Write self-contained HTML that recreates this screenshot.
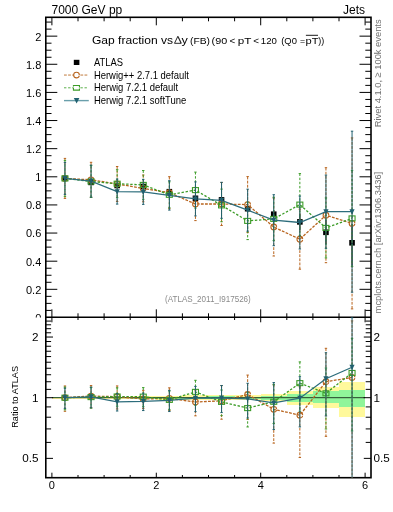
<!DOCTYPE html><html><head><meta charset="utf-8"><style>html,body{margin:0;padding:0;background:#fff;}svg{display:block;will-change:transform;}text{font-family:"Liberation Sans",sans-serif;-webkit-font-smoothing:antialiased;}</style></head><body>
<svg width="393" height="512" viewBox="0 0 393 512">
<g shape-rendering="crispEdges">
<rect x="51.90" y="396.70" width="26.10" height="2.00" fill="#fff99c"/>
<rect x="51.90" y="397.20" width="26.10" height="1.00" fill="#90f59a"/>
<rect x="78.00" y="396.70" width="26.10" height="2.00" fill="#fff99c"/>
<rect x="78.00" y="397.20" width="26.10" height="1.00" fill="#90f59a"/>
<rect x="104.10" y="396.50" width="26.10" height="2.40" fill="#fff99c"/>
<rect x="104.10" y="397.10" width="26.10" height="1.20" fill="#90f59a"/>
<rect x="130.20" y="396.20" width="26.10" height="3.00" fill="#fff99c"/>
<rect x="130.20" y="396.90" width="26.10" height="1.60" fill="#90f59a"/>
<rect x="156.30" y="395.70" width="26.10" height="4.00" fill="#fff99c"/>
<rect x="156.30" y="396.70" width="26.10" height="2.00" fill="#90f59a"/>
<rect x="182.40" y="395.40" width="26.10" height="4.60" fill="#fff99c"/>
<rect x="182.40" y="396.50" width="26.10" height="2.40" fill="#90f59a"/>
<rect x="208.50" y="395.20" width="26.10" height="5.00" fill="#fff99c"/>
<rect x="208.50" y="396.40" width="26.10" height="2.60" fill="#90f59a"/>
<rect x="234.60" y="395.30" width="26.10" height="4.80" fill="#fff99c"/>
<rect x="234.60" y="396.50" width="26.10" height="2.40" fill="#90f59a"/>
<rect x="260.70" y="394.10" width="26.10" height="7.20" fill="#fff99c"/>
<rect x="260.70" y="395.50" width="26.10" height="4.40" fill="#90f59a"/>
<rect x="286.80" y="390.80" width="26.10" height="13.80" fill="#fff99c"/>
<rect x="286.80" y="393.50" width="26.10" height="8.40" fill="#90f59a"/>
<rect x="312.90" y="387.20" width="26.10" height="20.70" fill="#fff99c"/>
<rect x="312.90" y="391.20" width="26.10" height="11.70" fill="#90f59a"/>
<rect x="339.00" y="382.10" width="26.10" height="34.60" fill="#fff99c"/>
<rect x="339.00" y="390.10" width="26.10" height="16.60" fill="#90f59a"/>
</g>
<line x1="51.90" y1="397.7" x2="365.10" y2="397.7" stroke="#000" stroke-opacity="0.75" stroke-width="1"/>
<g stroke="#000" fill="none">
<rect x="45.8" y="17.3" width="325.2" height="460.4" stroke-width="1.6"/>
<line x1="45.8" y1="317.3" x2="371.0" y2="317.3" stroke-width="1.4"/>
<path d="M45.8,317.45h11.5M371.0,317.45h-11.5M45.8,310.42h5.7M371.0,310.42h-5.7M45.8,303.38h5.7M371.0,303.38h-5.7M45.8,296.35h5.7M371.0,296.35h-5.7M45.8,289.32h11.5M371.0,289.32h-11.5M45.8,282.29h5.7M371.0,282.29h-5.7M45.8,275.25h5.7M371.0,275.25h-5.7M45.8,268.22h5.7M371.0,268.22h-5.7M45.8,261.19h11.5M371.0,261.19h-11.5M45.8,254.16h5.7M371.0,254.16h-5.7M45.8,247.12h5.7M371.0,247.12h-5.7M45.8,240.09h5.7M371.0,240.09h-5.7M45.8,233.06h11.5M371.0,233.06h-11.5M45.8,226.03h5.7M371.0,226.03h-5.7M45.8,218.99h5.7M371.0,218.99h-5.7M45.8,211.96h5.7M371.0,211.96h-5.7M45.8,204.93h11.5M371.0,204.93h-11.5M45.8,197.90h5.7M371.0,197.90h-5.7M45.8,190.86h5.7M371.0,190.86h-5.7M45.8,183.83h5.7M371.0,183.83h-5.7M45.8,176.80h11.5M371.0,176.80h-11.5M45.8,169.77h5.7M371.0,169.77h-5.7M45.8,162.73h5.7M371.0,162.73h-5.7M45.8,155.70h5.7M371.0,155.70h-5.7M45.8,148.67h11.5M371.0,148.67h-11.5M45.8,141.64h5.7M371.0,141.64h-5.7M45.8,134.60h5.7M371.0,134.60h-5.7M45.8,127.57h5.7M371.0,127.57h-5.7M45.8,120.54h11.5M371.0,120.54h-11.5M45.8,113.51h5.7M371.0,113.51h-5.7M45.8,106.47h5.7M371.0,106.47h-5.7M45.8,99.44h5.7M371.0,99.44h-5.7M45.8,92.41h11.5M371.0,92.41h-11.5M45.8,85.38h5.7M371.0,85.38h-5.7M45.8,78.34h5.7M371.0,78.34h-5.7M45.8,71.31h5.7M371.0,71.31h-5.7M45.8,64.28h11.5M371.0,64.28h-11.5M45.8,57.25h5.7M371.0,57.25h-5.7M45.8,50.21h5.7M371.0,50.21h-5.7M45.8,43.18h5.7M371.0,43.18h-5.7M45.8,36.15h11.5M371.0,36.15h-11.5M45.8,29.12h5.7M371.0,29.12h-5.7M45.8,22.08h5.7M371.0,22.08h-5.7M51.90,17.3v8M51.90,317.3v-8M78.00,17.3v4M78.00,317.3v-4M104.10,17.3v4M104.10,317.3v-4M130.20,17.3v4M130.20,317.3v-4M156.30,17.3v8M156.30,317.3v-8M182.40,17.3v4M182.40,317.3v-4M208.50,17.3v4M208.50,317.3v-4M234.60,17.3v4M234.60,317.3v-4M260.70,17.3v8M260.70,317.3v-8M286.80,17.3v4M286.80,317.3v-4M312.90,17.3v4M312.90,317.3v-4M339.00,17.3v4M339.00,317.3v-4M365.10,17.3v8M365.10,317.3v-8M45.8,458.36h7.2M371.0,458.36h-7.2M45.8,442.40h5.3M371.0,442.40h-5.3M45.8,428.91h5.3M371.0,428.91h-5.3M45.8,417.23h5.3M371.0,417.23h-5.3M45.8,406.92h5.3M371.0,406.92h-5.3M45.8,397.70h7.4M371.0,397.70h-7.4M45.8,389.36h5.3M371.0,389.36h-5.3M45.8,381.74h5.3M371.0,381.74h-5.3M45.8,374.74h5.3M371.0,374.74h-5.3M45.8,368.26h5.3M371.0,368.26h-5.3M45.8,362.22h5.3M371.0,362.22h-5.3M45.8,356.57h5.3M371.0,356.57h-5.3M45.8,351.26h5.3M371.0,351.26h-5.3M45.8,346.26h5.3M371.0,346.26h-5.3M45.8,341.53h5.3M371.0,341.53h-5.3M45.8,337.04h7.2M371.0,337.04h-7.2M45.8,332.77h5.3M371.0,332.77h-5.3M45.8,328.70h5.3M371.0,328.70h-5.3M45.8,324.81h5.3M371.0,324.81h-5.3M45.8,321.09h5.3M371.0,321.09h-5.3M45.8,317.52h5.3M371.0,317.52h-5.3M51.90,317.3v5M51.90,477.7v-5M78.00,317.3v2.7M78.00,477.7v-2.7M104.10,317.3v2.7M104.10,477.7v-2.7M130.20,317.3v2.7M130.20,477.7v-2.7M156.30,317.3v5M156.30,477.7v-5M182.40,317.3v2.7M182.40,477.7v-2.7M208.50,317.3v2.7M208.50,477.7v-2.7M234.60,317.3v2.7M234.60,477.7v-2.7M260.70,317.3v5M260.70,477.7v-5M286.80,317.3v2.7M286.80,477.7v-2.7M312.90,317.3v2.7M312.90,477.7v-2.7M339.00,317.3v2.7M339.00,477.7v-2.7M365.10,317.3v5M365.10,477.7v-5" stroke-width="1"/>
</g>
<g font-size="11" fill="#000" text-anchor="end">
<clipPath id="c0"><rect x="0" y="0" width="45" height="317.5"/></clipPath>
<text x="41.3" y="321.85" clip-path="url(#c0)">0</text>
<text x="41.3" y="293.72">0.2</text>
<text x="41.3" y="265.59">0.4</text>
<text x="41.3" y="237.46">0.6</text>
<text x="41.3" y="209.33">0.8</text>
<text x="41.3" y="181.20">1</text>
<text x="41.3" y="153.07">1.2</text>
<text x="41.3" y="124.94">1.4</text>
<text x="41.3" y="96.81">1.6</text>
<text x="41.3" y="68.68">1.8</text>
<text x="41.3" y="40.55">2</text>
<text x="38.6" y="341.04" font-size="11.7">2</text>
<text x="38.6" y="401.70" font-size="11.7">1</text>
<text x="38.6" y="462.36" font-size="11.7">0.5</text>
</g>
<g font-size="11" fill="#000" text-anchor="start">
<text x="373.4" y="341.04" font-size="11.7">2</text>
<text x="373.4" y="401.70" font-size="11.7">1</text>
<text x="373.4" y="462.36" font-size="11.7">0.5</text>
</g>
<g font-size="11" fill="#000" text-anchor="middle">
<text x="51.90" y="488.6">0</text>
<text x="156.30" y="488.6">2</text>
<text x="260.70" y="488.6">4</text>
<text x="365.10" y="488.6">6</text>
</g>
<text x="51.5" y="13.9" font-size="12">7000 GeV pp</text>
<text x="365" y="13.9" font-size="12" text-anchor="end">Jets</text>
<text transform="translate(380.6,127.2) rotate(-90)" font-size="9.8" fill="#707070" textLength="107.8" lengthAdjust="spacingAndGlyphs">Rivet 4.1.0, ≥ 100k events</text>
<text transform="translate(380.6,313.4) rotate(-90)" font-size="9.6" fill="#707070" textLength="141.6" lengthAdjust="spacingAndGlyphs">mcplots.cern.ch [arXiv:1306.3436]</text>
<text transform="translate(18.3,427.8) rotate(-90)" font-size="9.8" textLength="61.8" lengthAdjust="spacingAndGlyphs">Ratio to ATLAS</text>
<text x="165.0" y="301.5" font-size="8.4" fill="#8a8a8a" textLength="85.8" lengthAdjust="spacingAndGlyphs">(ATLAS_2011_I917526)</text>
<text x="92.00" y="44.0" font-size="11.3" textLength="81.00" lengthAdjust="spacingAndGlyphs">Gap fraction vs</text>
<path d="M174.5,43.3L177.8,36.4L181.1,43.3Z" fill="none" stroke="#000" stroke-width="0.85" stroke-linejoin="miter"/><path d="M177.8,36.4L181.1,43.3" stroke="#000" stroke-width="0.5" transform="translate(0.35,0)"/>
<text x="181.60" y="44.0" font-size="11.3" textLength="6.30" lengthAdjust="spacingAndGlyphs">y</text>
<text x="190.00" y="44.3" font-size="9.9" textLength="20.00" lengthAdjust="spacingAndGlyphs">(FB)</text>
<text x="211.60" y="44.3" font-size="9.9" textLength="15.60" lengthAdjust="spacingAndGlyphs">(90</text>
<text x="229.60" y="44.3" font-size="9.9" textLength="5.80" lengthAdjust="spacingAndGlyphs">&lt;</text>
<text x="237.80" y="44.3" font-size="9.9" textLength="13.60" lengthAdjust="spacingAndGlyphs">pT</text>
<text x="253.20" y="44.3" font-size="9.9" textLength="5.80" lengthAdjust="spacingAndGlyphs">&lt;</text>
<text x="260.80" y="44.3" font-size="9.9" textLength="16.10" lengthAdjust="spacingAndGlyphs">120</text>
<text x="281.20" y="44.3" font-size="9.9" textLength="15.70" lengthAdjust="spacingAndGlyphs">(Q0</text>
<text x="299.90" y="44.3" font-size="9.9" textLength="5.10" lengthAdjust="spacingAndGlyphs">=</text>
<text x="305.50" y="44.3" font-size="9.9" textLength="13.00" lengthAdjust="spacingAndGlyphs">pT</text>
<text x="318.20" y="44.3" font-size="9.9" textLength="6.00" lengthAdjust="spacingAndGlyphs">))</text>
<line x1="305.9" y1="35.3" x2="318" y2="35.3" stroke="#000" stroke-width="0.9"/>
<g font-size="10.2">
<text x="93.9" y="65.80" textLength="29.00" lengthAdjust="spacingAndGlyphs">ATLAS</text>
<text x="93.9" y="78.50" textLength="95.00" lengthAdjust="spacingAndGlyphs">Herwig++ 2.7.1 default</text>
<text x="93.9" y="91.30" textLength="84.20" lengthAdjust="spacingAndGlyphs">Herwig 7.2.1 default</text>
<text x="93.9" y="104.10" textLength="92.40" lengthAdjust="spacingAndGlyphs">Herwig 7.2.1 softTune</text>
</g>
<rect x="73.8" y="59.8" width="5.6" height="5.2" fill="#000"/>
<line x1="64" y1="75.05" x2="88.5" y2="75.05" stroke="#c07a3c" stroke-width="1" stroke-dasharray="2.8,1.3"/>
<circle cx="76.5" cy="75.05" r="2.85" fill="#fff" stroke="#b8641e" stroke-width="1.1" stroke-dasharray="0,0.6,16.7,0.6"/>
<line x1="64" y1="87.8" x2="88.5" y2="87.8" stroke="#5cb04a" stroke-width="1" stroke-dasharray="2.4,1.7"/>
<rect x="73.45" y="85.5" width="6" height="4.6" fill="#fff" stroke="#3c9c28" stroke-width="1.1" stroke-dasharray="7.9,1.2,9.8,1.2,1.9"/>
<line x1="64" y1="100.6" x2="88.8" y2="100.6" stroke="#6a9fab" stroke-width="1.4"/>
<path d="M73.8,98.0L79.4,98.0L76.6,103.6Z" fill="#21606f"/>
<defs><clipPath id="cm"><rect x="45.8" y="17.3" width="325.2" height="300.0"/></clipPath><clipPath id="cr"><rect x="45.8" y="317.3" width="325.2" height="160.39999999999998"/></clipPath></defs>
<g clip-path="url(#cm)">
<line x1="64.95" y1="177.20" x2="64.95" y2="179.60" stroke="#000" stroke-width="1.2"/>
<rect x="62.15" y="175.60" width="5.6" height="5.6" fill="#000"/>
<line x1="91.05" y1="181.20" x2="91.05" y2="183.60" stroke="#000" stroke-width="1.2"/>
<rect x="88.25" y="179.60" width="5.6" height="5.6" fill="#000"/>
<line x1="117.15" y1="184.06" x2="117.15" y2="186.94" stroke="#000" stroke-width="1.2"/>
<rect x="114.35" y="182.70" width="5.6" height="5.6" fill="#000"/>
<line x1="143.25" y1="184.70" x2="143.25" y2="188.30" stroke="#000" stroke-width="1.2"/>
<rect x="140.45" y="183.70" width="5.6" height="5.6" fill="#000"/>
<line x1="169.35" y1="189.30" x2="169.35" y2="194.10" stroke="#000" stroke-width="1.2"/>
<rect x="166.55" y="188.90" width="5.6" height="5.6" fill="#000"/>
<line x1="195.45" y1="195.54" x2="195.45" y2="201.06" stroke="#000" stroke-width="1.2"/>
<rect x="192.65" y="195.50" width="5.6" height="5.6" fill="#000"/>
<line x1="221.55" y1="196.90" x2="221.55" y2="202.90" stroke="#000" stroke-width="1.2"/>
<rect x="218.75" y="197.10" width="5.6" height="5.6" fill="#000"/>
<line x1="247.65" y1="205.82" x2="247.65" y2="211.58" stroke="#000" stroke-width="1.2"/>
<rect x="244.85" y="205.90" width="5.6" height="5.6" fill="#000"/>
<line x1="273.75" y1="209.88" x2="273.75" y2="218.52" stroke="#000" stroke-width="1.2"/>
<rect x="270.95" y="211.40" width="5.6" height="5.6" fill="#000"/>
<line x1="299.85" y1="213.62" x2="299.85" y2="230.18" stroke="#000" stroke-width="1.2"/>
<rect x="297.05" y="219.10" width="5.6" height="5.6" fill="#000"/>
<line x1="325.95" y1="219.70" x2="325.95" y2="244.54" stroke="#000" stroke-width="1.2"/>
<rect x="323.15" y="229.50" width="5.6" height="5.6" fill="#000"/>
<line x1="352.05" y1="224.08" x2="352.05" y2="265.60" stroke="#000" stroke-width="1.2"/>
<rect x="349.25" y="240.00" width="5.6" height="5.6" fill="#000"/>
<polyline points="64.95,178.40 91.05,179.80 117.15,184.00 143.25,188.40 169.35,192.70 195.45,204.00 221.55,204.00 247.65,204.60 273.75,227.00 299.85,239.20 325.95,215.20 352.05,223.40" fill="none" stroke="#b8641e" stroke-width="1.3" stroke-dasharray="2.8,1.3"/><line x1="64.95" y1="158.40" x2="64.95" y2="198.40" stroke="#b8641e" stroke-width="1" stroke-dasharray="2.8,1.3"/><line x1="63.75" y1="158.40" x2="66.15" y2="158.40" stroke="#b8641e" stroke-width="1"/><line x1="63.75" y1="198.40" x2="66.15" y2="198.40" stroke="#b8641e" stroke-width="1"/><line x1="91.05" y1="162.30" x2="91.05" y2="197.30" stroke="#b8641e" stroke-width="1" stroke-dasharray="2.8,1.3"/><line x1="89.85" y1="162.30" x2="92.25" y2="162.30" stroke="#b8641e" stroke-width="1"/><line x1="89.85" y1="197.30" x2="92.25" y2="197.30" stroke="#b8641e" stroke-width="1"/><line x1="117.15" y1="166.50" x2="117.15" y2="201.50" stroke="#b8641e" stroke-width="1" stroke-dasharray="2.8,1.3"/><line x1="115.95" y1="166.50" x2="118.35" y2="166.50" stroke="#b8641e" stroke-width="1"/><line x1="115.95" y1="201.50" x2="118.35" y2="201.50" stroke="#b8641e" stroke-width="1"/><line x1="143.25" y1="175.00" x2="143.25" y2="201.80" stroke="#b8641e" stroke-width="1" stroke-dasharray="2.8,1.3"/><line x1="142.05" y1="175.00" x2="144.45" y2="175.00" stroke="#b8641e" stroke-width="1"/><line x1="142.05" y1="201.80" x2="144.45" y2="201.80" stroke="#b8641e" stroke-width="1"/><line x1="169.35" y1="176.70" x2="169.35" y2="208.70" stroke="#b8641e" stroke-width="1" stroke-dasharray="2.8,1.3"/><line x1="168.15" y1="176.70" x2="170.55" y2="176.70" stroke="#b8641e" stroke-width="1"/><line x1="168.15" y1="208.70" x2="170.55" y2="208.70" stroke="#b8641e" stroke-width="1"/><line x1="195.45" y1="187.40" x2="195.45" y2="220.60" stroke="#b8641e" stroke-width="1" stroke-dasharray="2.8,1.3"/><line x1="194.25" y1="187.40" x2="196.65" y2="187.40" stroke="#b8641e" stroke-width="1"/><line x1="194.25" y1="220.60" x2="196.65" y2="220.60" stroke="#b8641e" stroke-width="1"/><line x1="221.55" y1="182.50" x2="221.55" y2="225.50" stroke="#b8641e" stroke-width="1" stroke-dasharray="2.8,1.3"/><line x1="220.35" y1="182.50" x2="222.75" y2="182.50" stroke="#b8641e" stroke-width="1"/><line x1="220.35" y1="225.50" x2="222.75" y2="225.50" stroke="#b8641e" stroke-width="1"/><line x1="247.65" y1="176.60" x2="247.65" y2="232.60" stroke="#b8641e" stroke-width="1" stroke-dasharray="2.8,1.3"/><line x1="246.45" y1="176.60" x2="248.85" y2="176.60" stroke="#b8641e" stroke-width="1"/><line x1="246.45" y1="232.60" x2="248.85" y2="232.60" stroke="#b8641e" stroke-width="1"/><line x1="273.75" y1="198.00" x2="273.75" y2="256.00" stroke="#b8641e" stroke-width="1" stroke-dasharray="2.8,1.3"/><line x1="272.55" y1="198.00" x2="274.95" y2="198.00" stroke="#b8641e" stroke-width="1"/><line x1="272.55" y1="256.00" x2="274.95" y2="256.00" stroke="#b8641e" stroke-width="1"/><line x1="299.85" y1="209.20" x2="299.85" y2="269.20" stroke="#b8641e" stroke-width="1" stroke-dasharray="2.8,1.3"/><line x1="298.65" y1="209.20" x2="301.05" y2="209.20" stroke="#b8641e" stroke-width="1"/><line x1="298.65" y1="269.20" x2="301.05" y2="269.20" stroke="#b8641e" stroke-width="1"/><line x1="325.95" y1="167.70" x2="325.95" y2="262.70" stroke="#b8641e" stroke-width="1" stroke-dasharray="2.8,1.3"/><line x1="324.75" y1="167.70" x2="327.15" y2="167.70" stroke="#b8641e" stroke-width="1"/><line x1="324.75" y1="262.70" x2="327.15" y2="262.70" stroke="#b8641e" stroke-width="1"/><line x1="352.05" y1="137.90" x2="352.05" y2="308.90" stroke="#b8641e" stroke-width="1" stroke-dasharray="2.8,1.3"/><line x1="350.85" y1="137.90" x2="353.25" y2="137.90" stroke="#b8641e" stroke-width="1"/><line x1="350.85" y1="308.90" x2="353.25" y2="308.90" stroke="#b8641e" stroke-width="1"/><circle cx="64.95" cy="178.40" r="2.85" fill="none" stroke="#b8641e" stroke-width="1.1" stroke-dasharray="0,0.6,16.7,0.6"/><circle cx="91.05" cy="179.80" r="2.85" fill="none" stroke="#b8641e" stroke-width="1.1" stroke-dasharray="0,0.6,16.7,0.6"/><circle cx="117.15" cy="184.00" r="2.85" fill="none" stroke="#b8641e" stroke-width="1.1" stroke-dasharray="0,0.6,16.7,0.6"/><circle cx="143.25" cy="188.40" r="2.85" fill="none" stroke="#b8641e" stroke-width="1.1" stroke-dasharray="0,0.6,16.7,0.6"/><circle cx="169.35" cy="192.70" r="2.85" fill="none" stroke="#b8641e" stroke-width="1.1" stroke-dasharray="0,0.6,16.7,0.6"/><circle cx="195.45" cy="204.00" r="2.85" fill="none" stroke="#b8641e" stroke-width="1.1" stroke-dasharray="0,0.6,16.7,0.6"/><circle cx="221.55" cy="204.00" r="2.85" fill="none" stroke="#b8641e" stroke-width="1.1" stroke-dasharray="0,0.6,16.7,0.6"/><circle cx="247.65" cy="204.60" r="2.85" fill="none" stroke="#b8641e" stroke-width="1.1" stroke-dasharray="0,0.6,16.7,0.6"/><circle cx="273.75" cy="227.00" r="2.85" fill="none" stroke="#b8641e" stroke-width="1.1" stroke-dasharray="0,0.6,16.7,0.6"/><circle cx="299.85" cy="239.20" r="2.85" fill="none" stroke="#b8641e" stroke-width="1.1" stroke-dasharray="0,0.6,16.7,0.6"/><circle cx="325.95" cy="215.20" r="2.85" fill="none" stroke="#b8641e" stroke-width="1.1" stroke-dasharray="0,0.6,16.7,0.6"/><circle cx="352.05" cy="223.40" r="2.85" fill="none" stroke="#b8641e" stroke-width="1.1" stroke-dasharray="0,0.6,16.7,0.6"/>
<polyline points="64.95,178.40 91.05,181.50 117.15,183.70 143.25,184.90 169.35,194.80 195.45,190.10 221.55,205.40 247.65,220.90 273.75,218.90 299.85,204.60 325.95,227.90 352.05,218.40" fill="none" stroke="#3c9c28" stroke-width="1.3" stroke-dasharray="2.4,1.7"/><line x1="64.95" y1="160.40" x2="64.95" y2="196.40" stroke="#3c9c28" stroke-width="1" stroke-dasharray="2.4,1.7"/><line x1="63.75" y1="160.40" x2="66.15" y2="160.40" stroke="#3c9c28" stroke-width="1"/><line x1="63.75" y1="196.40" x2="66.15" y2="196.40" stroke="#3c9c28" stroke-width="1"/><line x1="91.05" y1="165.50" x2="91.05" y2="197.50" stroke="#3c9c28" stroke-width="1" stroke-dasharray="2.4,1.7"/><line x1="89.85" y1="165.50" x2="92.25" y2="165.50" stroke="#3c9c28" stroke-width="1"/><line x1="89.85" y1="197.50" x2="92.25" y2="197.50" stroke="#3c9c28" stroke-width="1"/><line x1="117.15" y1="169.70" x2="117.15" y2="197.70" stroke="#3c9c28" stroke-width="1" stroke-dasharray="2.4,1.7"/><line x1="115.95" y1="169.70" x2="118.35" y2="169.70" stroke="#3c9c28" stroke-width="1"/><line x1="115.95" y1="197.70" x2="118.35" y2="197.70" stroke="#3c9c28" stroke-width="1"/><line x1="143.25" y1="170.50" x2="143.25" y2="199.30" stroke="#3c9c28" stroke-width="1" stroke-dasharray="2.4,1.7"/><line x1="142.05" y1="170.50" x2="144.45" y2="170.50" stroke="#3c9c28" stroke-width="1"/><line x1="142.05" y1="199.30" x2="144.45" y2="199.30" stroke="#3c9c28" stroke-width="1"/><line x1="169.35" y1="181.80" x2="169.35" y2="207.80" stroke="#3c9c28" stroke-width="1" stroke-dasharray="2.4,1.7"/><line x1="168.15" y1="181.80" x2="170.55" y2="181.80" stroke="#3c9c28" stroke-width="1"/><line x1="168.15" y1="207.80" x2="170.55" y2="207.80" stroke="#3c9c28" stroke-width="1"/><line x1="195.45" y1="172.10" x2="195.45" y2="208.10" stroke="#3c9c28" stroke-width="1" stroke-dasharray="2.4,1.7"/><line x1="194.25" y1="172.10" x2="196.65" y2="172.10" stroke="#3c9c28" stroke-width="1"/><line x1="194.25" y1="208.10" x2="196.65" y2="208.10" stroke="#3c9c28" stroke-width="1"/><line x1="221.55" y1="189.10" x2="221.55" y2="221.70" stroke="#3c9c28" stroke-width="1" stroke-dasharray="2.4,1.7"/><line x1="220.35" y1="189.10" x2="222.75" y2="189.10" stroke="#3c9c28" stroke-width="1"/><line x1="220.35" y1="221.70" x2="222.75" y2="221.70" stroke="#3c9c28" stroke-width="1"/><line x1="247.65" y1="202.20" x2="247.65" y2="239.60" stroke="#3c9c28" stroke-width="1" stroke-dasharray="2.4,1.7"/><line x1="246.45" y1="202.20" x2="248.85" y2="202.20" stroke="#3c9c28" stroke-width="1"/><line x1="246.45" y1="239.60" x2="248.85" y2="239.60" stroke="#3c9c28" stroke-width="1"/><line x1="273.75" y1="197.20" x2="273.75" y2="240.60" stroke="#3c9c28" stroke-width="1" stroke-dasharray="2.4,1.7"/><line x1="272.55" y1="197.20" x2="274.95" y2="197.20" stroke="#3c9c28" stroke-width="1"/><line x1="272.55" y1="240.60" x2="274.95" y2="240.60" stroke="#3c9c28" stroke-width="1"/><line x1="299.85" y1="173.60" x2="299.85" y2="235.60" stroke="#3c9c28" stroke-width="1" stroke-dasharray="2.4,1.7"/><line x1="298.65" y1="173.60" x2="301.05" y2="173.60" stroke="#3c9c28" stroke-width="1"/><line x1="298.65" y1="235.60" x2="301.05" y2="235.60" stroke="#3c9c28" stroke-width="1"/><line x1="325.95" y1="197.90" x2="325.95" y2="257.90" stroke="#3c9c28" stroke-width="1" stroke-dasharray="2.4,1.7"/><line x1="324.75" y1="197.90" x2="327.15" y2="197.90" stroke="#3c9c28" stroke-width="1"/><line x1="324.75" y1="257.90" x2="327.15" y2="257.90" stroke="#3c9c28" stroke-width="1"/><line x1="352.05" y1="170.40" x2="352.05" y2="266.40" stroke="#3c9c28" stroke-width="1" stroke-dasharray="2.4,1.7"/><line x1="350.85" y1="170.40" x2="353.25" y2="170.40" stroke="#3c9c28" stroke-width="1"/><line x1="350.85" y1="266.40" x2="353.25" y2="266.40" stroke="#3c9c28" stroke-width="1"/><rect x="61.95" y="175.90" width="6" height="5" fill="none" stroke="#3c9c28" stroke-width="1.1"/><rect x="88.05" y="179.00" width="6" height="5" fill="none" stroke="#3c9c28" stroke-width="1.1"/><rect x="114.15" y="181.20" width="6" height="5" fill="none" stroke="#3c9c28" stroke-width="1.1"/><rect x="140.25" y="182.40" width="6" height="5" fill="none" stroke="#3c9c28" stroke-width="1.1"/><rect x="166.35" y="192.30" width="6" height="5" fill="none" stroke="#3c9c28" stroke-width="1.1"/><rect x="192.45" y="187.60" width="6" height="5" fill="none" stroke="#3c9c28" stroke-width="1.1"/><rect x="218.55" y="202.90" width="6" height="5" fill="none" stroke="#3c9c28" stroke-width="1.1"/><rect x="244.65" y="218.40" width="6" height="5" fill="none" stroke="#3c9c28" stroke-width="1.1"/><rect x="270.75" y="216.40" width="6" height="5" fill="none" stroke="#3c9c28" stroke-width="1.1"/><rect x="296.85" y="202.10" width="6" height="5" fill="none" stroke="#3c9c28" stroke-width="1.1"/><rect x="322.95" y="225.40" width="6" height="5" fill="none" stroke="#3c9c28" stroke-width="1.1"/><rect x="349.05" y="215.90" width="6" height="5" fill="none" stroke="#3c9c28" stroke-width="1.1"/>
<polyline points="64.95,178.40 91.05,181.10 117.15,191.60 143.25,191.90 169.35,195.40 195.45,198.90 221.55,200.30 247.65,210.20 273.75,220.20 299.85,222.50 325.95,211.70 352.05,211.70" fill="none" stroke="#2d6d7c" stroke-width="1.3"/><line x1="64.95" y1="162.40" x2="64.95" y2="194.40" stroke="#21606f" stroke-width="1"/><line x1="63.75" y1="162.40" x2="66.15" y2="162.40" stroke="#21606f" stroke-width="1"/><line x1="63.75" y1="194.40" x2="66.15" y2="194.40" stroke="#21606f" stroke-width="1"/><line x1="91.05" y1="165.10" x2="91.05" y2="197.10" stroke="#21606f" stroke-width="1"/><line x1="89.85" y1="165.10" x2="92.25" y2="165.10" stroke="#21606f" stroke-width="1"/><line x1="89.85" y1="197.10" x2="92.25" y2="197.10" stroke="#21606f" stroke-width="1"/><line x1="117.15" y1="179.10" x2="117.15" y2="204.10" stroke="#21606f" stroke-width="1"/><line x1="115.95" y1="179.10" x2="118.35" y2="179.10" stroke="#21606f" stroke-width="1"/><line x1="115.95" y1="204.10" x2="118.35" y2="204.10" stroke="#21606f" stroke-width="1"/><line x1="143.25" y1="179.40" x2="143.25" y2="204.40" stroke="#21606f" stroke-width="1"/><line x1="142.05" y1="179.40" x2="144.45" y2="179.40" stroke="#21606f" stroke-width="1"/><line x1="142.05" y1="204.40" x2="144.45" y2="204.40" stroke="#21606f" stroke-width="1"/><line x1="169.35" y1="180.70" x2="169.35" y2="210.10" stroke="#21606f" stroke-width="1"/><line x1="168.15" y1="180.70" x2="170.55" y2="180.70" stroke="#21606f" stroke-width="1"/><line x1="168.15" y1="210.10" x2="170.55" y2="210.10" stroke="#21606f" stroke-width="1"/><line x1="195.45" y1="181.90" x2="195.45" y2="215.90" stroke="#21606f" stroke-width="1"/><line x1="194.25" y1="181.90" x2="196.65" y2="181.90" stroke="#21606f" stroke-width="1"/><line x1="194.25" y1="215.90" x2="196.65" y2="215.90" stroke="#21606f" stroke-width="1"/><line x1="221.55" y1="182.30" x2="221.55" y2="218.30" stroke="#21606f" stroke-width="1"/><line x1="220.35" y1="182.30" x2="222.75" y2="182.30" stroke="#21606f" stroke-width="1"/><line x1="220.35" y1="218.30" x2="222.75" y2="218.30" stroke="#21606f" stroke-width="1"/><line x1="247.65" y1="189.20" x2="247.65" y2="231.20" stroke="#21606f" stroke-width="1"/><line x1="246.45" y1="189.20" x2="248.85" y2="189.20" stroke="#21606f" stroke-width="1"/><line x1="246.45" y1="231.20" x2="248.85" y2="231.20" stroke="#21606f" stroke-width="1"/><line x1="273.75" y1="194.70" x2="273.75" y2="245.70" stroke="#21606f" stroke-width="1"/><line x1="272.55" y1="194.70" x2="274.95" y2="194.70" stroke="#21606f" stroke-width="1"/><line x1="272.55" y1="245.70" x2="274.95" y2="245.70" stroke="#21606f" stroke-width="1"/><line x1="299.85" y1="196.00" x2="299.85" y2="249.00" stroke="#21606f" stroke-width="1"/><line x1="298.65" y1="196.00" x2="301.05" y2="196.00" stroke="#21606f" stroke-width="1"/><line x1="298.65" y1="249.00" x2="301.05" y2="249.00" stroke="#21606f" stroke-width="1"/><line x1="325.95" y1="175.10" x2="325.95" y2="248.30" stroke="#21606f" stroke-width="1"/><line x1="324.75" y1="175.10" x2="327.15" y2="175.10" stroke="#21606f" stroke-width="1"/><line x1="324.75" y1="248.30" x2="327.15" y2="248.30" stroke="#21606f" stroke-width="1"/><line x1="352.05" y1="131.20" x2="352.05" y2="292.20" stroke="#21606f" stroke-width="1"/><line x1="350.85" y1="131.20" x2="353.25" y2="131.20" stroke="#21606f" stroke-width="1"/><line x1="350.85" y1="292.20" x2="353.25" y2="292.20" stroke="#21606f" stroke-width="1"/><path d="M62.35,176.00L67.55,176.00L64.95,181.20Z" fill="#21606f"/><path d="M88.45,178.70L93.65,178.70L91.05,183.90Z" fill="#21606f"/><path d="M114.55,189.20L119.75,189.20L117.15,194.40Z" fill="#21606f"/><path d="M140.65,189.50L145.85,189.50L143.25,194.70Z" fill="#21606f"/><path d="M166.75,193.00L171.95,193.00L169.35,198.20Z" fill="#21606f"/><path d="M192.85,196.50L198.05,196.50L195.45,201.70Z" fill="#21606f"/><path d="M218.95,197.90L224.15,197.90L221.55,203.10Z" fill="#21606f"/><path d="M245.05,207.80L250.25,207.80L247.65,213.00Z" fill="#21606f"/><path d="M271.15,217.80L276.35,217.80L273.75,223.00Z" fill="#21606f"/><path d="M297.25,220.10L302.45,220.10L299.85,225.30Z" fill="#21606f"/><path d="M323.35,209.30L328.55,209.30L325.95,214.50Z" fill="#21606f"/><path d="M349.45,209.30L354.65,209.30L352.05,214.50Z" fill="#21606f"/>
</g>
<g clip-path="url(#cr)">
<polyline points="64.95,397.70 91.05,396.03 117.15,396.71 143.25,398.98 169.35,398.40 195.45,401.99 221.55,400.81 247.65,394.46 273.75,409.28 299.85,415.18 325.95,381.69 352.05,377.48" fill="none" stroke="#b8641e" stroke-width="1.3" stroke-dasharray="2.8,1.3"/><line x1="64.95" y1="385.94" x2="64.95" y2="411.29" stroke="#b8641e" stroke-width="1" stroke-dasharray="2.8,1.3"/><line x1="63.75" y1="385.94" x2="66.15" y2="385.94" stroke="#b8641e" stroke-width="1"/><line x1="63.75" y1="411.29" x2="66.15" y2="411.29" stroke="#b8641e" stroke-width="1"/><line x1="91.05" y1="385.56" x2="91.05" y2="407.93" stroke="#b8641e" stroke-width="1" stroke-dasharray="2.8,1.3"/><line x1="89.85" y1="385.56" x2="92.25" y2="385.56" stroke="#b8641e" stroke-width="1"/><line x1="89.85" y1="407.93" x2="92.25" y2="407.93" stroke="#b8641e" stroke-width="1"/><line x1="117.15" y1="385.93" x2="117.15" y2="409.01" stroke="#b8641e" stroke-width="1" stroke-dasharray="2.8,1.3"/><line x1="115.95" y1="385.93" x2="118.35" y2="385.93" stroke="#b8641e" stroke-width="1"/><line x1="115.95" y1="409.01" x2="118.35" y2="409.01" stroke="#b8641e" stroke-width="1"/><line x1="143.25" y1="390.33" x2="143.25" y2="408.57" stroke="#b8641e" stroke-width="1" stroke-dasharray="2.8,1.3"/><line x1="142.05" y1="390.33" x2="144.45" y2="390.33" stroke="#b8641e" stroke-width="1"/><line x1="142.05" y1="408.57" x2="144.45" y2="408.57" stroke="#b8641e" stroke-width="1"/><line x1="169.35" y1="387.84" x2="169.35" y2="410.41" stroke="#b8641e" stroke-width="1" stroke-dasharray="2.8,1.3"/><line x1="168.15" y1="387.84" x2="170.55" y2="387.84" stroke="#b8641e" stroke-width="1"/><line x1="168.15" y1="410.41" x2="170.55" y2="410.41" stroke="#b8641e" stroke-width="1"/><line x1="195.45" y1="390.04" x2="195.45" y2="415.83" stroke="#b8641e" stroke-width="1" stroke-dasharray="2.8,1.3"/><line x1="194.25" y1="390.04" x2="196.65" y2="390.04" stroke="#b8641e" stroke-width="1"/><line x1="194.25" y1="415.83" x2="196.65" y2="415.83" stroke="#b8641e" stroke-width="1"/><line x1="221.55" y1="385.62" x2="221.55" y2="419.19" stroke="#b8641e" stroke-width="1" stroke-dasharray="2.8,1.3"/><line x1="220.35" y1="385.62" x2="222.75" y2="385.62" stroke="#b8641e" stroke-width="1"/><line x1="220.35" y1="419.19" x2="222.75" y2="419.19" stroke="#b8641e" stroke-width="1"/><line x1="247.65" y1="375.07" x2="247.65" y2="419.42" stroke="#b8641e" stroke-width="1" stroke-dasharray="2.8,1.3"/><line x1="246.45" y1="375.07" x2="248.85" y2="375.07" stroke="#b8641e" stroke-width="1"/><line x1="246.45" y1="419.42" x2="248.85" y2="419.42" stroke="#b8641e" stroke-width="1"/><line x1="273.75" y1="384.95" x2="273.75" y2="443.11" stroke="#b8641e" stroke-width="1" stroke-dasharray="2.8,1.3"/><line x1="272.55" y1="384.95" x2="274.95" y2="384.95" stroke="#b8641e" stroke-width="1"/><line x1="272.55" y1="443.11" x2="274.95" y2="443.11" stroke="#b8641e" stroke-width="1"/><line x1="299.85" y1="386.78" x2="299.85" y2="457.49" stroke="#b8641e" stroke-width="1" stroke-dasharray="2.8,1.3"/><line x1="298.65" y1="386.78" x2="301.05" y2="386.78" stroke="#b8641e" stroke-width="1"/><line x1="298.65" y1="457.49" x2="301.05" y2="457.49" stroke="#b8641e" stroke-width="1"/><line x1="325.95" y1="348.30" x2="325.95" y2="436.35" stroke="#b8641e" stroke-width="1" stroke-dasharray="2.8,1.3"/><line x1="324.75" y1="348.30" x2="327.15" y2="348.30" stroke="#b8641e" stroke-width="1"/><line x1="324.75" y1="436.35" x2="327.15" y2="436.35" stroke="#b8641e" stroke-width="1"/><line x1="352.05" y1="320.90" x2="352.05" y2="587.32" stroke="#b8641e" stroke-width="1" stroke-dasharray="2.8,1.3"/><line x1="350.85" y1="320.90" x2="353.25" y2="320.90" stroke="#b8641e" stroke-width="1"/><line x1="350.85" y1="587.32" x2="353.25" y2="587.32" stroke="#b8641e" stroke-width="1"/><circle cx="64.95" cy="397.70" r="2.85" fill="none" stroke="#b8641e" stroke-width="1.1" stroke-dasharray="0,0.6,16.7,0.6"/><circle cx="91.05" cy="396.03" r="2.85" fill="none" stroke="#b8641e" stroke-width="1.1" stroke-dasharray="0,0.6,16.7,0.6"/><circle cx="117.15" cy="396.71" r="2.85" fill="none" stroke="#b8641e" stroke-width="1.1" stroke-dasharray="0,0.6,16.7,0.6"/><circle cx="143.25" cy="398.98" r="2.85" fill="none" stroke="#b8641e" stroke-width="1.1" stroke-dasharray="0,0.6,16.7,0.6"/><circle cx="169.35" cy="398.40" r="2.85" fill="none" stroke="#b8641e" stroke-width="1.1" stroke-dasharray="0,0.6,16.7,0.6"/><circle cx="195.45" cy="401.99" r="2.85" fill="none" stroke="#b8641e" stroke-width="1.1" stroke-dasharray="0,0.6,16.7,0.6"/><circle cx="221.55" cy="400.81" r="2.85" fill="none" stroke="#b8641e" stroke-width="1.1" stroke-dasharray="0,0.6,16.7,0.6"/><circle cx="247.65" cy="394.46" r="2.85" fill="none" stroke="#b8641e" stroke-width="1.1" stroke-dasharray="0,0.6,16.7,0.6"/><circle cx="273.75" cy="409.28" r="2.85" fill="none" stroke="#b8641e" stroke-width="1.1" stroke-dasharray="0,0.6,16.7,0.6"/><circle cx="299.85" cy="415.18" r="2.85" fill="none" stroke="#b8641e" stroke-width="1.1" stroke-dasharray="0,0.6,16.7,0.6"/><circle cx="325.95" cy="381.69" r="2.85" fill="none" stroke="#b8641e" stroke-width="1.1" stroke-dasharray="0,0.6,16.7,0.6"/><circle cx="352.05" cy="377.48" r="2.85" fill="none" stroke="#b8641e" stroke-width="1.1" stroke-dasharray="0,0.6,16.7,0.6"/>
<polyline points="64.95,397.70 91.05,397.12 117.15,396.51 143.25,396.64 169.35,399.88 195.45,391.88 221.55,401.89 247.65,408.11 273.75,401.78 299.85,383.14 325.95,393.29 352.05,372.95" fill="none" stroke="#3c9c28" stroke-width="1.3" stroke-dasharray="2.4,1.7"/><line x1="64.95" y1="387.05" x2="64.95" y2="409.83" stroke="#3c9c28" stroke-width="1" stroke-dasharray="2.4,1.7"/><line x1="63.75" y1="387.05" x2="66.15" y2="387.05" stroke="#3c9c28" stroke-width="1"/><line x1="63.75" y1="409.83" x2="66.15" y2="409.83" stroke="#3c9c28" stroke-width="1"/><line x1="91.05" y1="387.38" x2="91.05" y2="408.08" stroke="#3c9c28" stroke-width="1" stroke-dasharray="2.4,1.7"/><line x1="89.85" y1="387.38" x2="92.25" y2="387.38" stroke="#3c9c28" stroke-width="1"/><line x1="89.85" y1="408.08" x2="92.25" y2="408.08" stroke="#3c9c28" stroke-width="1"/><line x1="117.15" y1="387.80" x2="117.15" y2="406.19" stroke="#3c9c28" stroke-width="1" stroke-dasharray="2.4,1.7"/><line x1="115.95" y1="387.80" x2="118.35" y2="387.80" stroke="#3c9c28" stroke-width="1"/><line x1="115.95" y1="406.19" x2="118.35" y2="406.19" stroke="#3c9c28" stroke-width="1"/><line x1="143.25" y1="387.61" x2="143.25" y2="406.70" stroke="#3c9c28" stroke-width="1" stroke-dasharray="2.4,1.7"/><line x1="142.05" y1="387.61" x2="144.45" y2="387.61" stroke="#3c9c28" stroke-width="1"/><line x1="142.05" y1="406.70" x2="144.45" y2="406.70" stroke="#3c9c28" stroke-width="1"/><line x1="169.35" y1="391.07" x2="169.35" y2="409.69" stroke="#3c9c28" stroke-width="1" stroke-dasharray="2.4,1.7"/><line x1="168.15" y1="391.07" x2="170.55" y2="391.07" stroke="#3c9c28" stroke-width="1"/><line x1="168.15" y1="409.69" x2="170.55" y2="409.69" stroke="#3c9c28" stroke-width="1"/><line x1="195.45" y1="380.31" x2="195.45" y2="405.21" stroke="#3c9c28" stroke-width="1" stroke-dasharray="2.4,1.7"/><line x1="194.25" y1="380.31" x2="196.65" y2="380.31" stroke="#3c9c28" stroke-width="1"/><line x1="194.25" y1="405.21" x2="196.65" y2="405.21" stroke="#3c9c28" stroke-width="1"/><line x1="221.55" y1="390.01" x2="221.55" y2="415.65" stroke="#3c9c28" stroke-width="1" stroke-dasharray="2.4,1.7"/><line x1="220.35" y1="390.01" x2="222.75" y2="390.01" stroke="#3c9c28" stroke-width="1"/><line x1="220.35" y1="415.65" x2="222.75" y2="415.65" stroke="#3c9c28" stroke-width="1"/><line x1="247.65" y1="392.62" x2="247.65" y2="426.95" stroke="#3c9c28" stroke-width="1" stroke-dasharray="2.4,1.7"/><line x1="246.45" y1="392.62" x2="248.85" y2="392.62" stroke="#3c9c28" stroke-width="1"/><line x1="246.45" y1="426.95" x2="248.85" y2="426.95" stroke="#3c9c28" stroke-width="1"/><line x1="273.75" y1="384.36" x2="273.75" y2="423.54" stroke="#3c9c28" stroke-width="1" stroke-dasharray="2.4,1.7"/><line x1="272.55" y1="384.36" x2="274.95" y2="384.36" stroke="#3c9c28" stroke-width="1"/><line x1="272.55" y1="423.54" x2="274.95" y2="423.54" stroke="#3c9c28" stroke-width="1"/><line x1="299.85" y1="361.90" x2="299.85" y2="411.24" stroke="#3c9c28" stroke-width="1" stroke-dasharray="2.4,1.7"/><line x1="298.65" y1="361.90" x2="301.05" y2="361.90" stroke="#3c9c28" stroke-width="1"/><line x1="298.65" y1="411.24" x2="301.05" y2="411.24" stroke="#3c9c28" stroke-width="1"/><line x1="325.95" y1="368.01" x2="325.95" y2="428.99" stroke="#3c9c28" stroke-width="1" stroke-dasharray="2.4,1.7"/><line x1="324.75" y1="368.01" x2="327.15" y2="368.01" stroke="#3c9c28" stroke-width="1"/><line x1="324.75" y1="428.99" x2="327.15" y2="428.99" stroke="#3c9c28" stroke-width="1"/><line x1="352.05" y1="338.37" x2="352.05" y2="430.95" stroke="#3c9c28" stroke-width="1" stroke-dasharray="2.4,1.7"/><line x1="350.85" y1="338.37" x2="353.25" y2="338.37" stroke="#3c9c28" stroke-width="1"/><line x1="350.85" y1="430.95" x2="353.25" y2="430.95" stroke="#3c9c28" stroke-width="1"/><rect x="61.95" y="395.20" width="6" height="5" fill="none" stroke="#3c9c28" stroke-width="1.1"/><rect x="88.05" y="394.62" width="6" height="5" fill="none" stroke="#3c9c28" stroke-width="1.1"/><rect x="114.15" y="394.01" width="6" height="5" fill="none" stroke="#3c9c28" stroke-width="1.1"/><rect x="140.25" y="394.14" width="6" height="5" fill="none" stroke="#3c9c28" stroke-width="1.1"/><rect x="166.35" y="397.38" width="6" height="5" fill="none" stroke="#3c9c28" stroke-width="1.1"/><rect x="192.45" y="389.38" width="6" height="5" fill="none" stroke="#3c9c28" stroke-width="1.1"/><rect x="218.55" y="399.39" width="6" height="5" fill="none" stroke="#3c9c28" stroke-width="1.1"/><rect x="244.65" y="405.61" width="6" height="5" fill="none" stroke="#3c9c28" stroke-width="1.1"/><rect x="270.75" y="399.28" width="6" height="5" fill="none" stroke="#3c9c28" stroke-width="1.1"/><rect x="296.85" y="380.64" width="6" height="5" fill="none" stroke="#3c9c28" stroke-width="1.1"/><rect x="322.95" y="390.79" width="6" height="5" fill="none" stroke="#3c9c28" stroke-width="1.1"/><rect x="349.05" y="370.45" width="6" height="5" fill="none" stroke="#3c9c28" stroke-width="1.1"/>
<polyline points="64.95,397.70 91.05,396.86 117.15,401.84 143.25,401.39 169.35,400.31 195.45,398.14 221.55,398.00 247.65,398.92 273.75,402.94 299.85,398.25 325.95,378.74 352.05,367.22" fill="none" stroke="#2d6d7c" stroke-width="1.3"/><line x1="64.95" y1="388.17" x2="64.95" y2="408.40" stroke="#21606f" stroke-width="1"/><line x1="63.75" y1="388.17" x2="66.15" y2="388.17" stroke="#21606f" stroke-width="1"/><line x1="63.75" y1="408.40" x2="66.15" y2="408.40" stroke="#21606f" stroke-width="1"/><line x1="91.05" y1="387.15" x2="91.05" y2="407.78" stroke="#21606f" stroke-width="1"/><line x1="89.85" y1="387.15" x2="92.25" y2="387.15" stroke="#21606f" stroke-width="1"/><line x1="89.85" y1="407.78" x2="92.25" y2="407.78" stroke="#21606f" stroke-width="1"/><line x1="117.15" y1="393.56" x2="117.15" y2="411.00" stroke="#21606f" stroke-width="1"/><line x1="115.95" y1="393.56" x2="118.35" y2="393.56" stroke="#21606f" stroke-width="1"/><line x1="115.95" y1="411.00" x2="118.35" y2="411.00" stroke="#21606f" stroke-width="1"/><line x1="143.25" y1="393.08" x2="143.25" y2="410.56" stroke="#21606f" stroke-width="1"/><line x1="142.05" y1="393.08" x2="144.45" y2="393.08" stroke="#21606f" stroke-width="1"/><line x1="142.05" y1="410.56" x2="144.45" y2="410.56" stroke="#21606f" stroke-width="1"/><line x1="169.35" y1="390.36" x2="169.35" y2="411.54" stroke="#21606f" stroke-width="1"/><line x1="168.15" y1="390.36" x2="170.55" y2="390.36" stroke="#21606f" stroke-width="1"/><line x1="168.15" y1="411.54" x2="170.55" y2="411.54" stroke="#21606f" stroke-width="1"/><line x1="195.45" y1="386.41" x2="195.45" y2="411.69" stroke="#21606f" stroke-width="1"/><line x1="194.25" y1="386.41" x2="196.65" y2="386.41" stroke="#21606f" stroke-width="1"/><line x1="194.25" y1="411.69" x2="196.65" y2="411.69" stroke="#21606f" stroke-width="1"/><line x1="221.55" y1="385.49" x2="221.55" y2="412.60" stroke="#21606f" stroke-width="1"/><line x1="220.35" y1="385.49" x2="222.75" y2="385.49" stroke="#21606f" stroke-width="1"/><line x1="220.35" y1="412.60" x2="222.75" y2="412.60" stroke="#21606f" stroke-width="1"/><line x1="247.65" y1="383.27" x2="247.65" y2="417.99" stroke="#21606f" stroke-width="1"/><line x1="246.45" y1="383.27" x2="248.85" y2="383.27" stroke="#21606f" stroke-width="1"/><line x1="246.45" y1="417.99" x2="248.85" y2="417.99" stroke="#21606f" stroke-width="1"/><line x1="273.75" y1="382.56" x2="273.75" y2="429.55" stroke="#21606f" stroke-width="1"/><line x1="272.55" y1="382.56" x2="274.95" y2="382.56" stroke="#21606f" stroke-width="1"/><line x1="272.55" y1="429.55" x2="274.95" y2="429.55" stroke="#21606f" stroke-width="1"/><line x1="299.85" y1="376.71" x2="299.85" y2="426.89" stroke="#21606f" stroke-width="1"/><line x1="298.65" y1="376.71" x2="301.05" y2="376.71" stroke="#21606f" stroke-width="1"/><line x1="298.65" y1="426.89" x2="301.05" y2="426.89" stroke="#21606f" stroke-width="1"/><line x1="325.95" y1="352.73" x2="325.95" y2="415.91" stroke="#21606f" stroke-width="1"/><line x1="324.75" y1="352.73" x2="327.15" y2="352.73" stroke="#21606f" stroke-width="1"/><line x1="324.75" y1="415.91" x2="327.15" y2="415.91" stroke="#21606f" stroke-width="1"/><line x1="352.05" y1="317.69" x2="352.05" y2="492.56" stroke="#21606f" stroke-width="1"/><line x1="350.85" y1="317.69" x2="353.25" y2="317.69" stroke="#21606f" stroke-width="1"/><line x1="350.85" y1="492.56" x2="353.25" y2="492.56" stroke="#21606f" stroke-width="1"/><path d="M62.35,395.30L67.55,395.30L64.95,400.50Z" fill="#21606f"/><path d="M88.45,394.46L93.65,394.46L91.05,399.66Z" fill="#21606f"/><path d="M114.55,399.44L119.75,399.44L117.15,404.64Z" fill="#21606f"/><path d="M140.65,398.99L145.85,398.99L143.25,404.19Z" fill="#21606f"/><path d="M166.75,397.91L171.95,397.91L169.35,403.11Z" fill="#21606f"/><path d="M192.85,395.74L198.05,395.74L195.45,400.94Z" fill="#21606f"/><path d="M218.95,395.60L224.15,395.60L221.55,400.80Z" fill="#21606f"/><path d="M245.05,396.52L250.25,396.52L247.65,401.72Z" fill="#21606f"/><path d="M271.15,400.54L276.35,400.54L273.75,405.74Z" fill="#21606f"/><path d="M297.25,395.85L302.45,395.85L299.85,401.05Z" fill="#21606f"/><path d="M323.35,376.34L328.55,376.34L325.95,381.54Z" fill="#21606f"/><path d="M349.45,364.82L354.65,364.82L352.05,370.02Z" fill="#21606f"/>
</g>
</svg></body></html>
